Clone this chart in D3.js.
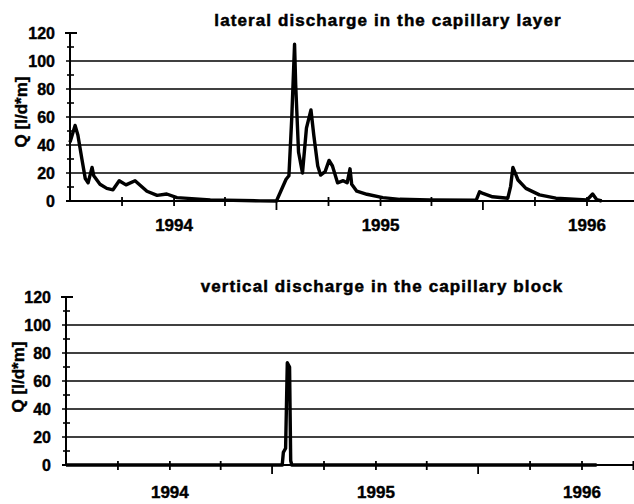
<!DOCTYPE html>
<html>
<head>
<meta charset="utf-8">
<script src="https://cdn.jsdelivr.net/npm/d3@7"></script>
<style>
  body { margin: 0; background: #fff; }
  svg { display: block; }
</style>
</head>
<body>
<div id="chart"></div>
<script>
// lateral discharge in the capillary layer (top panel)
const lateralDates = [
  "1993-07-01", "1993-07-10", "1993-07-15", "1993-07-22", "1993-07-28", "1993-08-02",
  "1993-08-09", "1993-08-12", "1993-08-23", "1993-09-04", "1993-09-15", "1993-09-26",
  "1993-10-08", "1993-10-24", "1993-11-14", "1993-12-02", "1993-12-19", "1994-01-06",
  "1994-03-06", "1994-06-02", "1994-07-01", "1994-07-18", "1994-07-23", "1994-07-28",
  "1994-08-02", "1994-08-04", "1994-08-09", "1994-08-16", "1994-08-23", "1994-08-31",
  "1994-09-05", "1994-09-12", "1994-09-17", "1994-09-25", "1994-10-02", "1994-10-08",
  "1994-10-17", "1994-10-27", "1994-11-03", "1994-11-08", "1994-11-11", "1994-11-20",
  "1994-12-08", "1995-01-05", "1995-02-04", "1995-03-29", "1995-06-19", "1995-06-25",
  "1995-07-01", "1995-07-18", "1995-08-14", "1995-08-19", "1995-08-23", "1995-09-01",
  "1995-09-15", "1995-10-09", "1995-11-07", "1996-01-01", "1996-01-11", "1996-01-18",
  "1996-01-27"
];
const lateralQ = [
  42, 54, 47, 30, 16, 13,
  24, 18, 12, 9, 8, 14.5,
  11.5, 14.5, 7, 4, 5, 2.4,
  0.8, 0.1, 0, 15.5, 18, 59,
  112, 83, 35, 20, 52, 65,
  47, 25, 18.5, 21, 29, 25,
  13, 14.5, 13, 23, 12, 7,
  4.8, 2.4, 1.2, 0.8, 0.5, 6.6,
  5.4, 3, 2, 10.5, 24, 15,
  9, 4.4, 2, 0.7, 5, 1,
  0
];

// vertical discharge in the capillary block (bottom panel)
const verticalDates = [
  "1993-07-01", "1994-07-19", "1994-07-21", "1994-07-25", "1994-07-28",
  "1994-08-01", "1994-08-03", "1994-08-05", "1996-01-27"
];
const verticalQ = [0, 0, 9, 12, 73, 70, 3, 0, 0];

const yTickValues = [0, 20, 40, 60, 80, 100, 120];
const yearLabels = ["1994", "1995", "1996"];
const titles = [
  "lateral discharge in the capillary layer",
  "vertical discharge in the capillary block"
];
const yTitle = "Q [l/d*m]";

const width = 634, height = 504;
const font = "'Liberation Sans', Arial, sans-serif";
const parse = d3.timeParse("%Y-%m-%d");

const svg = d3.select("#chart").append("svg")
  .attr("width", width)
  .attr("height", height)
  .attr("font-family", font)
  .attr("font-weight", "bold");

function drawPanel(p) {
  const data = p.dates.map((d, i) => ({ date: parse(d), q: p.values[i] }));

  const x = d3.scaleTime()
    .domain([parse("1993-07-01"), parse("1996-01-01")])
    .range([p.left, p.right1996]);
  const xEnd = x.invert(width);

  const y = d3.scaleLinear().domain([0, 120]).range([p.bottom, p.top]);

  const g = svg.append("g");

  // horizontal gridlines
  g.append("g")
    .selectAll("line")
    .data([20, 40, 60, 80, 100])
    .join("line")
    .attr("x1", p.left - 4)
    .attr("x2", width)
    .attr("y1", (d) => y(d))
    .attr("y2", (d) => y(d))
    .attr("stroke", "#000")
    .attr("stroke-width", 1.7);

  // y axis: line, minor ticks every 10, T cap at 120
  g.append("line")
    .attr("x1", p.left).attr("x2", p.left)
    .attr("y1", y(0)).attr("y2", y(120))
    .attr("stroke", "#000").attr("stroke-width", 2);
  g.append("g")
    .selectAll("line")
    .data(d3.range(10, 120, 20))
    .join("line")
    .attr("x1", p.left - 3).attr("x2", p.left + 4)
    .attr("y1", (d) => y(d)).attr("y2", (d) => y(d))
    .attr("stroke", "#000").attr("stroke-width", 1.6);
  g.append("line")
    .attr("x1", p.left - 5).attr("x2", p.left + 7)
    .attr("y1", y(120)).attr("y2", y(120))
    .attr("stroke", "#000").attr("stroke-width", 2);

  g.append("g")
    .selectAll("text")
    .data(yTickValues)
    .join("text")
    .attr("x", p.left - 15)
    .attr("y", (d) => y(d))
    .attr("dy", "0.36em")
    .attr("text-anchor", "end")
    .attr("font-size", 16)
    .attr("stroke", "#000")
    .attr("stroke-width", 0.4)
    .text((d) => d);

  // x axis along zero, quarterly ticks, longer ones at July
  g.append("line")
    .attr("x1", p.left - 4).attr("x2", width)
    .attr("y1", y(0)).attr("y2", y(0))
    .attr("stroke", "#000").attr("stroke-width", 2.2);
  const quarters = d3.timeMonth.every(3).range(parse("1993-10-01"), xEnd);
  g.append("g")
    .selectAll("line")
    .data(quarters)
    .join("line")
    .attr("x1", (d) => x(d)).attr("x2", (d) => x(d))
    .attr("y1", (d) => y(0) + (d.getMonth() === 6 ? 0 : -4))
    .attr("y2", (d) => y(0) + (d.getMonth() === 6 ? 9 : 5))
    .attr("stroke", "#000").attr("stroke-width", 1.8);

  g.append("g")
    .selectAll("text")
    .data(yearLabels)
    .join("text")
    .attr("x", (d) => x(parse(d + "-01-01")))
    .attr("y", p.labelY)
    .attr("text-anchor", "middle")
    .attr("font-size", 17)
    .attr("stroke", "#000")
    .attr("stroke-width", 0.4)
    .text((d) => d);

  // the series
  const line = d3.line()
    .x((d) => x(d.date))
    .y((d) => y(d.q));
  g.append("path")
    .datum(data)
    .attr("fill", "none")
    .attr("stroke", "#000")
    .attr("stroke-width", 3.4)
    .attr("stroke-linejoin", "round")
    .attr("d", line);

  // titles
  g.append("text")
    .attr("x", p.titleX)
    .attr("y", p.titleY)
    .attr("text-anchor", "middle")
    .attr("font-size", 17)
    .attr("letter-spacing", p.titleSpacing)
    .attr("stroke", "#000")
    .attr("stroke-width", 0.5)
    .text(p.title);

  g.append("text")
    .attr("transform", `translate(${p.yTitleX},${p.yTitleY}) rotate(-90)`)
    .attr("text-anchor", "middle")
    .attr("font-size", 17)
    .attr("stroke", "#000")
    .attr("stroke-width", 0.4)
    .text(yTitle);
}

drawPanel({
  dates: lateralDates, values: lateralQ, title: titles[0],
  left: 70, right1996: 587, top: 33, bottom: 201,
  labelY: 231, titleX: 388, titleY: 26, titleSpacing: 1.1,
  yTitleX: 27, yTitleY: 112
});

drawPanel({
  dates: verticalDates, values: verticalQ, title: titles[1],
  left: 66, right1996: 582, top: 297, bottom: 465,
  labelY: 498, titleX: 382, titleY: 292, titleSpacing: 1.1,
  yTitleX: 24, yTitleY: 377
});
</script>
</body>
</html>
